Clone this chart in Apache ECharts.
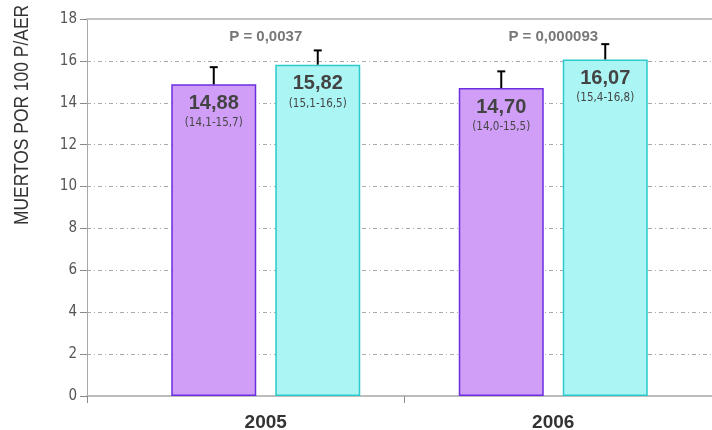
<!DOCTYPE html>
<html>
<head>
<meta charset="utf-8">
<script src="https://cdn.jsdelivr.net/npm/echarts@6/dist/echarts.min.js"></script>
<style>
  html, body { margin: 0; padding: 0; background: #fff; }
  #chart { width: 712px; height: 430px; }
</style>
</head>
<body>
<div id="chart"></div>
<script>
// Mortality per 100 patients/year, with 95% confidence intervals
var years = ['2005', '2006'];
var groupA = [14.88, 14.70];
var groupA_lo = [14.1, 14.0];
var groupA_hi = [15.7, 15.5];
var groupB = [15.82, 16.07];
var groupB_lo = [15.1, 15.4];
var groupB_hi = [16.5, 16.8];
var pLabels = ['P = 0,0037', 'P = 0,000093'];
var pLabelLevel = 17.15;
var yTicks = { min: 0, max: 18, interval: 2 };

var BAR_W = 85;
var BAR_GAP = 19;
var COND = "'DejaVu Sans Condensed', 'DejaVu Sans', sans-serif";
var SANS = "'Liberation Sans', Arial, sans-serif";

function fmt(v, d) { return v.toFixed(d).replace('.', ','); }

function barLabel(vals, lo, hi) {
  return function (p) {
    var i = p.dataIndex;
    return '{v|' + fmt(vals[i], 2) + '}\n{c|(' + fmt(lo[i], 1) + '-' + fmt(hi[i], 1) + ')}';
  };
}

var labelRich = {
  v: { fontFamily: SANS, fontWeight: 'bold', fontSize: 20, color: '#434343', lineHeight: 22 },
  c: { fontFamily: COND, fontSize: 11.5, color: '#454545', lineHeight: 18 }
};

// upper whisker only (lower part is hidden behind the bar)
function whisker(offset) {
  return function (params, api) {
    var top = api.coord([api.value(0), api.value(2)]);
    var base = api.coord([api.value(0), api.value(1)]);
    var x = top[0] + offset;
    return {
      type: 'group',
      children: [
        { type: 'line', shape: { x1: x, y1: base[1], x2: x, y2: top[1] }, style: { stroke: '#000', lineWidth: 2 } },
        { type: 'line', shape: { x1: x - 4, y1: top[1], x2: x + 4, y2: top[1] }, style: { stroke: '#000', lineWidth: 2 } }
      ]
    };
  };
}

var halfStep = (BAR_W + BAR_GAP) / 2;

var chart = echarts.init(document.getElementById('chart'), null, { renderer: 'canvas' });
chart.setOption({
  animation: false,
  backgroundColor: '#fff',
  grid: [
    { left: 87, right: -9, top: 19, bottom: 34, outerBoundsMode: 'none', containLabel: false },
    { left: 122, right: 15, top: 19, bottom: 34, outerBoundsMode: 'none', containLabel: false }
  ],
  graphic: [{
    type: 'text',
    x: 22, y: 115, rotation: Math.PI / 2, scaleX: 0.83,
    style: {
      text: 'MUERTOS POR 100 P/AER',
      fontFamily: SANS, fontSize: 21, fill: '#333',
      align: 'center', verticalAlign: 'middle'
    }
  }],
  xAxis: [
    {
      type: 'category', gridIndex: 0, data: ['', ''],
      axisLine: { lineStyle: { color: '#bdbdbd', width: 2 } },
      axisTick: { show: true, length: 7, lineStyle: { color: '#8a8a8a', width: 1 } },
      axisLabel: { show: false }
    },
    {
      type: 'category', gridIndex: 0, position: 'top', data: ['', ''],
      axisLine: { lineStyle: { color: '#c2c2c2', width: 2 } },
      axisTick: { show: false }, axisLabel: { show: false }
    },
    {
      type: 'category', gridIndex: 1, data: years,
      axisLine: { show: false }, axisTick: { show: false },
      axisLabel: { fontFamily: SANS, fontWeight: 'bold', fontSize: 19, color: '#333', margin: 17 }
    }
  ],
  yAxis: [
    {
      type: 'value', gridIndex: 0, min: yTicks.min, max: yTicks.max, interval: yTicks.interval,
      axisLine: { show: true, lineStyle: { color: '#a8a8a8', width: 1 } },
      axisTick: { show: true, length: 7, lineStyle: { color: '#8a8a8a' } },
      axisLabel: { fontFamily: COND, fontSize: 15, color: '#555', margin: 10 },
      splitLine: { show: true, lineStyle: { color: '#aaaaaa', width: 1, type: [4, 3, 1, 3] } }
    },
    {
      type: 'value', gridIndex: 1, min: yTicks.min, max: yTicks.max, interval: yTicks.interval,
      show: false, splitLine: { show: false }
    }
  ],
  series: [
    {
      type: 'bar', xAxisIndex: 2, yAxisIndex: 1, data: groupA,
      barWidth: BAR_W, barGap: (BAR_GAP / BAR_W * 100) + '%',
      itemStyle: { color: '#d09ef7', borderColor: '#6a2fe0', borderWidth: 1.5 },
      label: { show: true, position: 'insideTop', distance: 8, formatter: barLabel(groupA, groupA_lo, groupA_hi), rich: labelRich }
    },
    {
      type: 'bar', xAxisIndex: 2, yAxisIndex: 1, data: groupB,
      barWidth: BAR_W,
      itemStyle: { color: '#acf5f5', borderColor: '#2ccaca', borderWidth: 1.5 },
      label: { show: true, position: 'insideTop', distance: 8, formatter: barLabel(groupB, groupB_lo, groupB_hi), rich: labelRich }
    },
    {
      type: 'custom', xAxisIndex: 2, yAxisIndex: 1, z: 5,
      renderItem: whisker(-halfStep),
      data: years.map(function (y, i) { return [i, groupA[i], groupA_hi[i]]; })
    },
    {
      type: 'custom', xAxisIndex: 2, yAxisIndex: 1, z: 5,
      renderItem: whisker(halfStep),
      data: years.map(function (y, i) { return [i, groupB[i], groupB_hi[i]]; })
    },
    {
      type: 'scatter', xAxisIndex: 2, yAxisIndex: 1, symbolSize: 0,
      data: years.map(function (y, i) { return [i, pLabelLevel]; }),
      label: {
        show: true, position: 'inside',
        formatter: function (p) { return pLabels[p.dataIndex]; },
        fontFamily: SANS, fontWeight: 'bold', fontSize: 15, color: '#555'
      }
    }
  ]
});
</script>
</body>
</html>
